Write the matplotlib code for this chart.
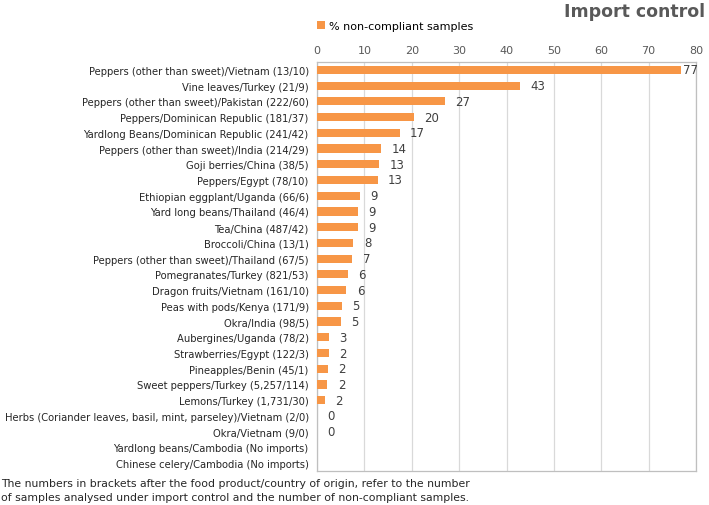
import numpy as np
import matplotlib.pyplot as plt

# Data (top to bottom)
labels = [
    "Peppers (other than sweet)/Vietnam (13/10)",
    "Vine leaves/Turkey (21/9)",
    "Peppers (other than sweet)/Pakistan (222/60)",
    "Peppers/Dominican Republic (181/37)",
    "Yardlong Beans/Dominican Republic (241/42)",
    "Peppers (other than sweet)/India (214/29)",
    "Goji berries/China (38/5)",
    "Peppers/Egypt (78/10)",
    "Ethiopian eggplant/Uganda (66/6)",
    "Yard long beans/Thailand (46/4)",
    "Tea/China (487/42)",
    "Broccoli/China (13/1)",
    "Peppers (other than sweet)/Thailand (67/5)",
    "Pomegranates/Turkey (821/53)",
    "Dragon fruits/Vietnam (161/10)",
    "Peas with pods/Kenya (171/9)",
    "Okra/India (98/5)",
    "Aubergines/Uganda (78/2)",
    "Strawberries/Egypt (122/3)",
    "Pineapples/Benin (45/1)",
    "Sweet peppers/Turkey (5,257/114)",
    "Lemons/Turkey (1,731/30)",
    "Herbs (Coriander leaves, basil, mint, parseley)/Vietnam (2/0)",
    "Okra/Vietnam (9/0)",
    "Yardlong beans/Cambodia (No imports)",
    "Chinese celery/Cambodia (No imports)",
]
values = [76.92, 42.86, 27.03, 20.44, 17.43, 13.55, 13.16, 12.82, 9.09, 8.70,
          8.62, 7.69, 7.46, 6.46, 6.21, 5.26, 5.10, 2.56, 2.46, 2.22, 2.17,
          1.73, 0, 0, None, None]
xticks = [0, 10, 20, 30, 40, 50, 60, 70, 80]

orange = "#f79646"
grey_txt = "#595959"
grid_col = "#d9d9d9"

plt.rcParams['font.family'] = ['DejaVu Sans']

fig = plt.figure(figsize=(7.09, 5.06), dpi=100)
ax = fig.add_axes([317 / 709, 1 - 472 / 506, 379 / 709, 409 / 506])

y = np.arange(len(labels))
vals = [v if v is not None else 0 for v in values]
ax.barh(y, vals, height=0.52, color=orange, zorder=3,
        label="% non-compliant samples")
for yi, v in zip(y, values):
    if v is None:
        continue
    # labels stay inside the plot area, as in the original
    ax.text(min(v + 2.2, 77.2), yi, f"{v:.0f}", va="center", ha="left",
            fontsize=8.5, color="#404040", zorder=4)

ax.set_ylim(len(labels) - 0.5, -0.5)
ax.set_xlim(0, 80)
ax.set_yticks(y)
ax.set_yticklabels(labels, fontsize=7.2, color="#262626")
ax.set_xticks(xticks)
ax.xaxis.tick_top()
ax.tick_params(axis="x", length=0, pad=5, labelsize=8, labelcolor=grey_txt)
ax.tick_params(axis="y", length=0, pad=6)
ax.grid(axis="x", color=grid_col, linewidth=0.9, zorder=0)
for s in ax.spines.values():
    s.set_color("#bfbfbf")
    s.set_linewidth(0.9)

ax.legend(loc="lower left", bbox_to_anchor=(0.0, 1.077), frameon=False,
          fontsize=8, handlelength=0.7, handleheight=0.7, handletextpad=0.4,
          borderaxespad=0, borderpad=0)

fig.text(705 / 709, 1 - 12 / 506, "Import control", ha="right", va="center",
         fontsize=12.5, fontweight="bold", color=grey_txt)
fig.text(1 / 709, 1 - 484 / 506,
         "The numbers in brackets after the food product/country of origin, refer to the number",
         ha="left", va="center", fontsize=7.8, color="#262626")
fig.text(1 / 709, 1 - 498 / 506,
         "of samples analysed under import control and the number of non-compliant samples.",
         ha="left", va="center", fontsize=7.8, color="#262626")

fig.savefig("out.png", dpi=100)
